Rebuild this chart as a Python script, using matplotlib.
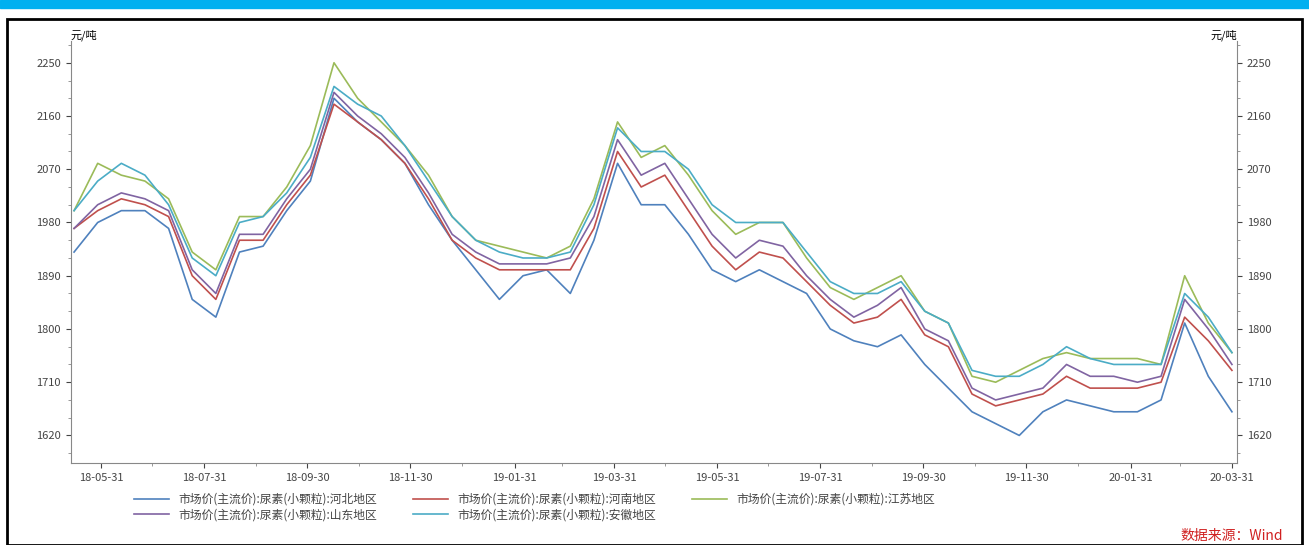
import numpy as np
import pandas as pd
import matplotlib.pyplot as plt
import matplotlib.dates as mdates
from matplotlib.patches import Rectangle

plt.rcParams['font.family'] = ['Noto Sans CJK SC', 'DejaVu Sans']

dates = pd.date_range('2018-05-15', periods=50, freq='14D')

hebei = [1930, 1980, 2000, 2000, 1970, 1850, 1820, 1930, 1940, 2000, 2050, 2190, 2150, 2120, 2080, 2010,
         1950, 1900, 1850, 1890, 1900, 1860, 1950, 2080, 2010, 2010, 1960, 1900, 1880, 1900, 1880, 1860,
         1800, 1780, 1770, 1790, 1740, 1700, 1660, 1640, 1620, 1660, 1680, 1670, 1660, 1660, 1680, 1810, 1720, 1660]
henan = [1970, 2000, 2020, 2010, 1990, 1890, 1850, 1950, 1950, 2010, 2060, 2180, 2150, 2120, 2080, 2020,
         1950, 1920, 1900, 1900, 1900, 1900, 1970, 2100, 2040, 2060, 2000, 1940, 1900, 1930, 1920, 1880,
         1840, 1810, 1820, 1850, 1790, 1770, 1690, 1670, 1680, 1690, 1720, 1700, 1700, 1700, 1710, 1820, 1780, 1730]
jiangsu = [2000, 2080, 2060, 2050, 2020, 1930, 1900, 1990, 1990, 2040, 2110, 2250, 2190, 2150, 2110, 2060,
           1990, 1950, 1940, 1930, 1920, 1940, 2020, 2150, 2090, 2110, 2060, 2000, 1960, 1980, 1980, 1920,
           1870, 1850, 1870, 1890, 1830, 1810, 1720, 1710, 1730, 1750, 1760, 1750, 1750, 1750, 1740, 1890, 1810, 1760]
shandong = [1970, 2010, 2030, 2020, 2000, 1900, 1860, 1960, 1960, 2020, 2070, 2200, 2160, 2130, 2090, 2030,
            1960, 1930, 1910, 1910, 1910, 1920, 1990, 2120, 2060, 2080, 2020, 1960, 1920, 1950, 1940, 1890,
            1850, 1820, 1840, 1870, 1800, 1780, 1700, 1680, 1690, 1700, 1740, 1720, 1720, 1710, 1720, 1850, 1800, 1740]
anhui = [2000, 2050, 2080, 2060, 2010, 1920, 1890, 1980, 1990, 2030, 2090, 2210, 2180, 2160, 2110, 2050,
         1990, 1950, 1930, 1920, 1920, 1930, 2010, 2140, 2100, 2100, 2070, 2010, 1980, 1980, 1980, 1930,
         1880, 1860, 1860, 1880, 1830, 1810, 1730, 1720, 1720, 1740, 1770, 1750, 1740, 1740, 1740, 1860, 1820, 1760]

names = ['市场价(主流价):尿素(小颗粒):河北地区', '市场价(主流价):尿素(小颗粒):河南地区',
         '市场价(主流价):尿素(小颗粒):江苏地区', '市场价(主流价):尿素(小颗粒):山东地区',
         '市场价(主流价):尿素(小颗粒):安徽地区']
colors = ['#4F81BD', '#C0504D', '#9BBB59', '#8064A2', '#4BACC6']
yticks = [1620, 1710, 1800, 1890, 1980, 2070, 2160, 2250]
xticks = pd.to_datetime(['2018-05-31', '2018-07-31', '2018-09-30', '2018-11-30', '2019-01-31', '2019-03-31',
                         '2019-05-31', '2019-07-31', '2019-09-30', '2019-11-30', '2020-01-31', '2020-03-31'])

fig = plt.figure(figsize=(13.09, 5.45), dpi=100)
fig.patches.append(Rectangle((0, 0.985), 1, 0.015, transform=fig.transFigure, color='#00B0F0'))
fig.patches.append(Rectangle((0.005, 0.0), 0.99, 0.965, transform=fig.transFigure, fill=False,
                             edgecolor='black', linewidth=2))
ax = fig.add_axes([0.054, 0.15, 0.891, 0.775])
lines = []
for s, n, c in zip([hebei, henan, jiangsu, shandong, anhui], names, colors):
    lines += ax.plot(dates, s, color=c, linewidth=1.2, label=n)

ax.set_ylim(1573, 2287)
ax.set_xlim(pd.Timestamp('2018-05-13'), pd.Timestamp('2020-04-03'))
ax.set_yticks(yticks)
ax.set_xticks(xticks)
ax.xaxis.set_minor_locator(mdates.MonthLocator(bymonthday=-1))
ax.yaxis.set_minor_locator(plt.MultipleLocator(30))
ax.xaxis.set_major_formatter(mdates.DateFormatter('%y-%m-%d'))
ax.tick_params(labelsize=8, colors='#444444', right=True, labelright=True)
ax.tick_params(which='minor', right=True, length=2, colors='#888888')
ax.spines['top'].set_visible(False)
for sp in ['left', 'right', 'bottom']:
    ax.spines[sp].set_color('#888888')
ax.text(0, 1.0, '元/吨', transform=ax.transAxes, fontsize=8, va='bottom')
ax.text(1, 1.0, '元/吨', transform=ax.transAxes, fontsize=8, va='bottom', ha='right')
order = [0, 3, 1, 4, 2]
ax.legend([lines[i] for i in order], [names[i] for i in order], loc='upper left',
          bbox_to_anchor=(0.045, -0.045), ncol=3, frameon=False, fontsize=8.5,
          handlelength=3, columnspacing=3, labelspacing=0.2, labelcolor='#444444')
fig.text(0.98, 0.01, '数据来源：Wind', color='#D02020', fontsize=10, ha='right', style='italic')
fig.savefig('out.png')
